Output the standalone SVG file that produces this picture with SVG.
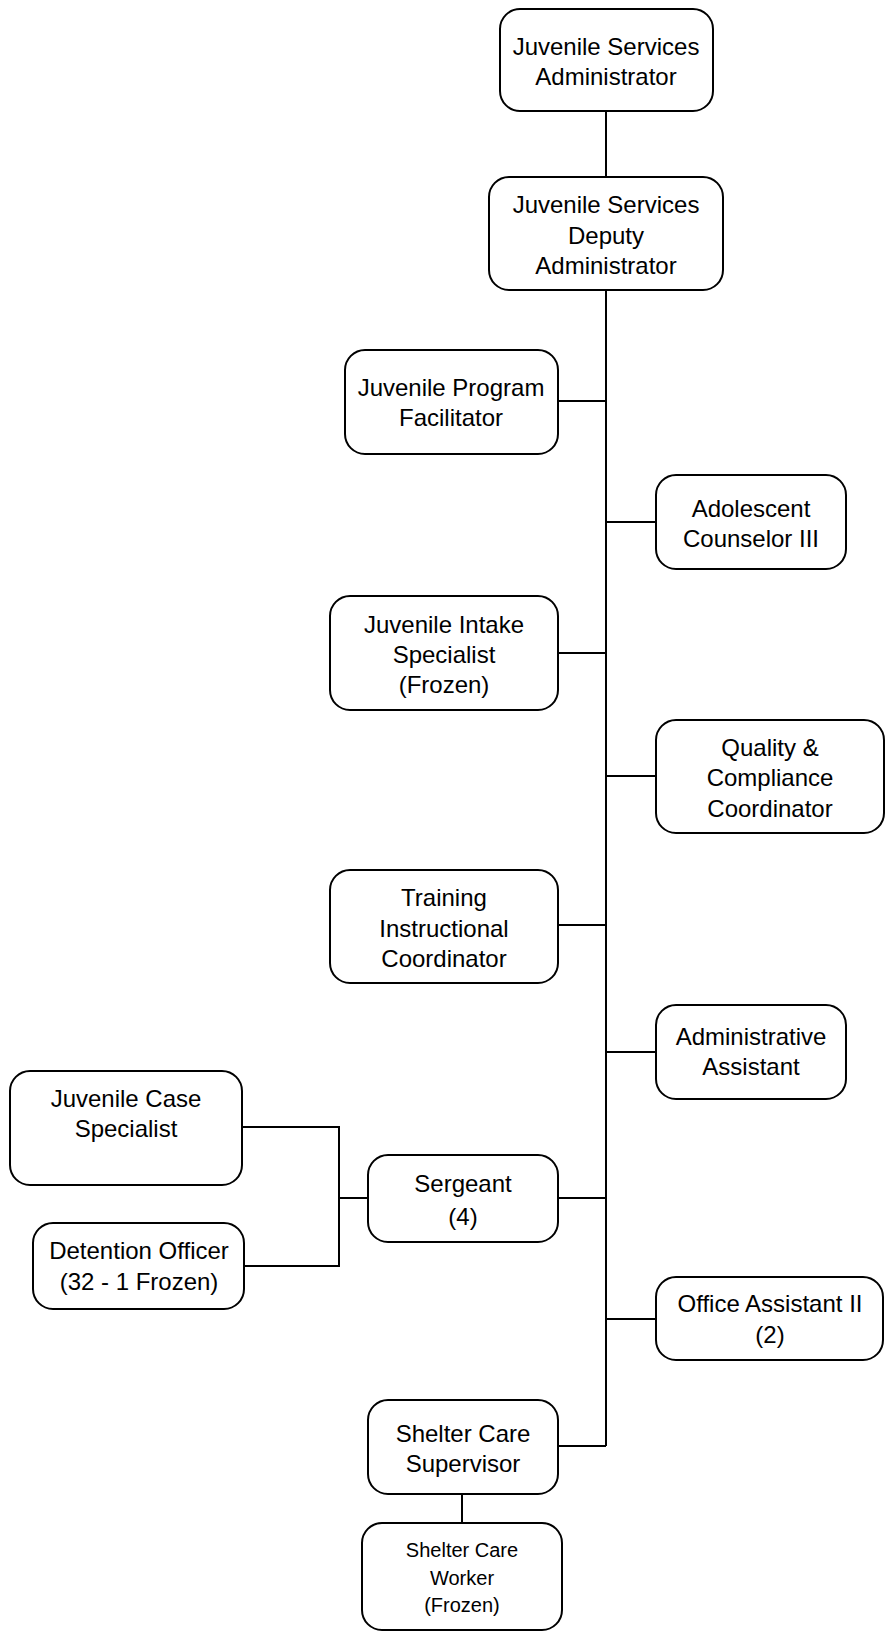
<svg xmlns="http://www.w3.org/2000/svg" width="890" height="1636" viewBox="0 0 890 1636">
  <style>
    .box { fill: #ffffff; stroke: #000000; stroke-width: 2; }
    .lbl { font-family: "Liberation Sans", Arial, sans-serif; font-size: 24px; fill: #000000; text-anchor: middle; }
    .sm { font-size: 20px; }
    .wire { fill: none; stroke: #000000; stroke-width: 2; }
  </style>
  <rect x="0" y="0" width="890" height="1636" fill="#ffffff"/>

  <g id="connectors">
    <path class="wire" d="M606 111 V177"/>
    <path class="wire" d="M606 290 V1446"/>
    <path class="wire" d="M558 401 H606"/>
    <path class="wire" d="M606 522 H656"/>
    <path class="wire" d="M558 653 H606"/>
    <path class="wire" d="M606 776 H656"/>
    <path class="wire" d="M558 925 H606"/>
    <path class="wire" d="M606 1052 H656"/>
    <path class="wire" d="M558 1198 H606"/>
    <path class="wire" d="M606 1319 H656"/>
    <path class="wire" d="M558 1446 H606"/>
    <path class="wire" d="M462 1494 V1523"/>
    <path class="wire" d="M368 1198 H339"/>
    <path class="wire" d="M242 1127 H339 V1266 H244"/>
  </g>

  <g id="admin">
    <rect class="box" x="500" y="9" width="213" height="102" rx="20"/>
    <text class="lbl" x="606" y="55">Juvenile Services</text>
    <text class="lbl" x="606" y="85">Administrator</text>
  </g>
  <g id="deputy">
    <rect class="box" x="489" y="177" width="234" height="113" rx="20"/>
    <text class="lbl" x="606" y="213">Juvenile Services</text>
    <text class="lbl" x="606" y="244">Deputy</text>
    <text class="lbl" x="606" y="274">Administrator</text>
  </g>
  <g id="program-facilitator">
    <rect class="box" x="345" y="350" width="213" height="104" rx="20"/>
    <text class="lbl" x="451" y="396">Juvenile Program</text>
    <text class="lbl" x="451" y="426">Facilitator</text>
  </g>
  <g id="adolescent-counselor">
    <rect class="box" x="656" y="475" width="190" height="94" rx="20"/>
    <text class="lbl" x="751" y="517">Adolescent</text>
    <text class="lbl" x="751" y="547">Counselor III</text>
  </g>
  <g id="intake-specialist">
    <rect class="box" x="330" y="596" width="228" height="114" rx="20"/>
    <text class="lbl" x="444" y="633">Juvenile Intake</text>
    <text class="lbl" x="444" y="663">Specialist</text>
    <text class="lbl" x="444" y="693">(Frozen)</text>
  </g>
  <g id="quality-coordinator">
    <rect class="box" x="656" y="720" width="228" height="113" rx="20"/>
    <text class="lbl" x="770" y="756">Quality &amp;</text>
    <text class="lbl" x="770" y="786">Compliance</text>
    <text class="lbl" x="770" y="817">Coordinator</text>
  </g>
  <g id="training-coordinator">
    <rect class="box" x="330" y="870" width="228" height="113" rx="20"/>
    <text class="lbl" x="444" y="906">Training</text>
    <text class="lbl" x="444" y="937">Instructional</text>
    <text class="lbl" x="444" y="967">Coordinator</text>
  </g>
  <g id="administrative-assistant">
    <rect class="box" x="656" y="1005" width="190" height="94" rx="20"/>
    <text class="lbl" x="751" y="1045">Administrative</text>
    <text class="lbl" x="751" y="1075">Assistant</text>
  </g>
  <g id="case-specialist">
    <rect class="box" x="10" y="1071" width="232" height="114" rx="20"/>
    <text class="lbl" x="126" y="1107">Juvenile Case</text>
    <text class="lbl" x="126" y="1137">Specialist</text>
  </g>
  <g id="sergeant">
    <rect class="box" x="368" y="1155" width="190" height="87" rx="20"/>
    <text class="lbl" x="463" y="1192">Sergeant</text>
    <text class="lbl" x="463" y="1225">(4)</text>
  </g>
  <g id="detention-officer">
    <rect class="box" x="33" y="1223" width="211" height="86" rx="20"/>
    <text class="lbl" x="139" y="1259">Detention Officer</text>
    <text class="lbl" x="139" y="1290">(32 - 1 Frozen)</text>
  </g>
  <g id="office-assistant">
    <rect class="box" x="656" y="1277" width="227" height="83" rx="20"/>
    <text class="lbl" x="770" y="1312">Office Assistant II</text>
    <text class="lbl" x="770" y="1343">(2)</text>
  </g>
  <g id="shelter-supervisor">
    <rect class="box" x="368" y="1400" width="190" height="94" rx="20"/>
    <text class="lbl" x="463" y="1442">Shelter Care</text>
    <text class="lbl" x="463" y="1472">Supervisor</text>
  </g>
  <g id="shelter-worker">
    <rect class="box" x="362" y="1523" width="200" height="107" rx="20"/>
    <text class="lbl sm" x="462" y="1557">Shelter Care</text>
    <text class="lbl sm" x="462" y="1585">Worker</text>
    <text class="lbl sm" x="462" y="1612">(Frozen)</text>
  </g>
</svg>
